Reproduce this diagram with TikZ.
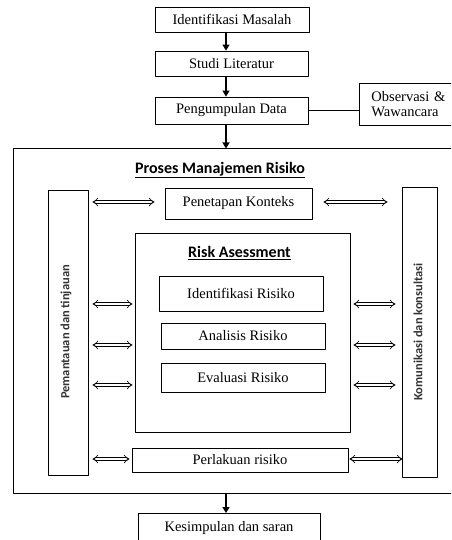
\documentclass[tikz,border=0pt]{standalone}
\usepackage{fontspec}
\setmainfont{Liberation Serif}
\newfontfamily\judulfont{Carlito}
\usetikzlibrary{arrows.meta}
\tikzset{
	kotak/.style={draw, line width=0.8pt, inner sep=0pt, font=\fontsize{14.5}{15}\selectfont},
	panah/.style={line width=1.2pt, -{Triangle[length=6pt,width=7pt]}},
	dobel/.style={double, double distance=2.4pt, line width=0.6pt, {Implies}-{Implies}},
	sisi/.style={rotate=90, text=black!80, font=\judulfont\bfseries\fontsize{12.5}{14}\selectfont},
	judul/.style={font=\judulfont\bfseries\fontsize{16}{18}\selectfont},
}
\begin{document}
\begin{tikzpicture}[x=1pt, y=-1pt, line join=round, line cap=round]
					%%%%%%%%%%%%%%%%%%%%%%%%%%%%%%%%%
					\useasboundingbox (0,0) rectangle (451,540);
					\clip (0,0) rectangle (451,540);
					\coordinate (sumbu) at (226,0);
					\coordinate (k0) at (0,202);
					\coordinate (k1) at (0,304);
					\coordinate (k2) at (0,345);
					\coordinate (k3) at (0,385);
					\coordinate (k4) at (0,459);
					%%%%%%%%%%%%%%%%%%%%%%%%%%%%%%%%%
					\node[kotak, minimum width=154pt, minimum height=25pt] (im) at (232,19.5) {Identifikasi Masalah};
					\node[kotak, minimum width=153pt, minimum height=25pt] (sl) at (231.5,63.5) {Studi Literatur};
					\node[kotak, minimum width=153pt, minimum height=27pt] (pd) at (231.5,110.5) {Pengumpulan Data};
					\node[kotak, minimum width=100pt, minimum height=42pt, anchor=west, inner xsep=12pt, text width=76pt, align=left] (ow) at (359,104) {Observasi \&\\Wawancara};
					%%%%%%%%%%%%%%%%%%%%%%%%%%%%%%%%%
					\node[draw, line width=1pt, minimum width=447pt, minimum height=344pt] (proses) at (236.5,321) {};
					\node[judul] (pmr) at (220,170) {\underline{Proses Manajemen Risiko}};
					\node[kotak, minimum width=40pt, minimum height=285pt] (lb) at (68,332.5) {};
					\node[kotak, minimum width=35pt, minimum height=290pt] (rb) at (419.5,332) {};
					\node[sisi] (lbt) at (66,332) {Pemantauan dan tinjauan};
					\node[sisi] (rbt) at (418,332) {Komunikasi dan konsultasi};
					\node[kotak, minimum width=147pt, minimum height=31pt] (pk) at (238.5,203.5) {Penetapan Konteks};
					%%%%%%%%%%%%%%%%%%%%%%%%%%%%%%%%%
					\node[kotak, minimum width=215pt, minimum height=199pt] (ra) at (242.5,332.5) {};
					\node[judul] (rat) at (239.5,253) {\underline{Risk Asessment}};
					\node[kotak, minimum width=164pt, minimum height=35pt] (ir) at (241,293.5) {Identifikasi Risiko};
					\node[kotak, minimum width=164pt, minimum height=26pt] (ar) at (243,336) {Analisis Risiko};
					\node[kotak, minimum width=164pt, minimum height=29pt] (er) at (243,377.5) {Evaluasi Risiko};
					\node[kotak, minimum width=216pt, minimum height=24pt] (pr) at (240,460) {Perlakuan risiko};
					\node[kotak, minimum width=182pt, anchor=north, text height=13pt, text depth=11pt, inner ysep=5pt] (ks) at (229,513) {Kesimpulan dan saran};
					%%%%%%%%%%%%%%%%%%%%%%%%%%%%%%%%%
					\draw[panah] (im.south -| sumbu) -- (sl.north -| sumbu);
					\draw[panah] (sl.south -| sumbu) -- (pd.north -| sumbu);
					\draw[panah] (pd.south -| sumbu) -- (proses.north -| sumbu);
					\draw[panah] (proses.south -| sumbu) -- (ks.north -| sumbu);
					\draw[line width=0.6pt] (pd.east) -- (ow.west |- pd.east);
					%%%%%%%%%%%%%%%%%%%%%%%%%%%%%%%%%
					\draw[dobel] ([xshift=4pt]lb.east |- k0) -- ([xshift=-10pt]pk.west |- k0);
					\draw[dobel] ([xshift=11pt]pk.east |- k0) -- ([xshift=-14pt]rb.west |- k0);
					\draw[dobel] ([xshift=4pt]lb.east |- k1) -- ([xshift=-2pt]ra.west |- k1);
					\draw[dobel] ([xshift=4pt]lb.east |- k2) -- ([xshift=-2pt]ra.west |- k2);
					\draw[dobel] ([xshift=4pt]lb.east |- k3) -- ([xshift=-2pt]ra.west |- k3);
					\draw[dobel] ([xshift=3pt]ra.east |- k1) -- ([xshift=-6pt]rb.west |- k1);
					\draw[dobel] ([xshift=3pt]ra.east |- k2) -- ([xshift=-6pt]rb.west |- k2);
					\draw[dobel] ([xshift=3pt]ra.east |- k3) -- ([xshift=-6pt]rb.west |- k3);
					\draw[dobel] ([xshift=4pt]lb.east |- k4) -- ([xshift=-2pt]pr.west |- k4);
					\draw[dobel] ([xshift=1pt]pr.east |- k4) -- ([xshift=1pt]rb.west |- k4);
					%%%%%%%%%%%%%%%%%%%%%%%%%%%%%%%%%
\end{tikzpicture}
\end{document}
